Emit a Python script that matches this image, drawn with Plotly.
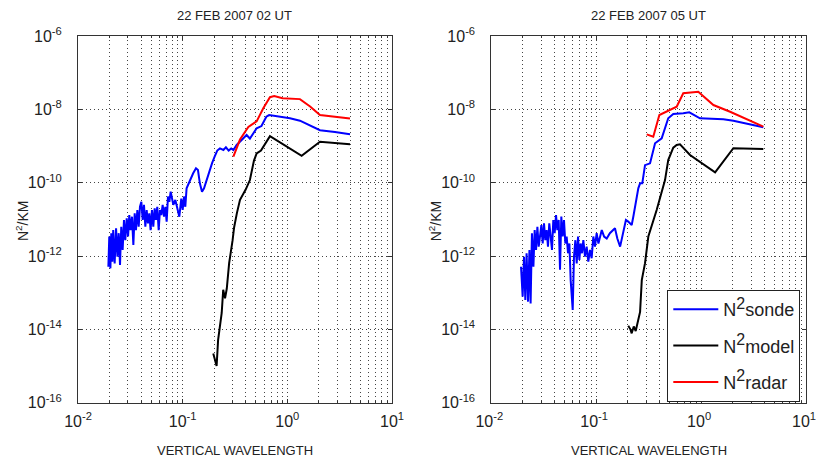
import plotly.graph_objects as go

# ---------------- data ----------------
# Panel 1: 22 FEB 2007 02 UT
sonde02_x = [0.0195, 0.0199, 0.0204, 0.0208, 0.0213, 0.0217, 0.0224, 0.0231, 0.0238, 0.0245,
             0.0252, 0.0259, 0.0267, 0.0275, 0.0283, 0.0292, 0.0301, 0.0309, 0.0318, 0.0328,
             0.0338, 0.0348, 0.0358, 0.0369, 0.0380, 0.0391, 0.0403, 0.0415, 0.0427, 0.0440,
             0.0453, 0.0466, 0.0480, 0.0494, 0.0509, 0.0524, 0.0540, 0.0556, 0.0572, 0.0590,
             0.0607, 0.0625, 0.0644, 0.0663, 0.0683, 0.0703, 0.0724, 0.0746, 0.0768, 0.0791,
             0.0814, 0.0851, 0.0889, 0.0929, 0.0970, 0.100, 0.103, 0.106, 0.109, 0.114,
             0.119, 0.126, 0.134, 0.140, 0.146, 0.153, 0.160, 0.169, 0.180, 0.191,
             0.202, 0.214, 0.227, 0.245, 0.259, 0.275, 0.291, 0.305, 0.328, 0.353,
             0.380, 0.408, 0.439, 0.509, 0.566, 0.630, 0.670, 1.06, 1.32, 2.05, 2.85, 3.97]
sonde02_y = [5.1e-13, 3.4e-12, 4.6e-13, 4.2e-12, 7.0e-13, 5.1e-12, 6.3e-13, 5.7e-12, 9.6e-13, 4.2e-12,
             5.7e-13, 6.3e-12, 1.46e-12, 9.6e-12, 2.7e-12, 1.07e-11, 3.4e-12, 1.31e-11, 5.1e-12, 1.18e-11,
             2.0e-12, 1.46e-11, 5.1e-12, 1.8e-11, 6.3e-12, 2.2e-11, 3.0e-11, 9.6e-12, 2.5e-11, 6.3e-12,
             1.8e-11, 7.8e-12, 1.46e-11, 5.1e-12, 1.8e-11, 6.3e-12, 2.0e-11, 9.6e-12, 2.2e-11, 5.1e-12,
             1.8e-11, 1.31e-11, 2.5e-11, 1.18e-11, 2.2e-11, 8.6e-12, 4.2e-11, 3.0e-11, 5.7e-11, 3.4e-11,
             2.5e-11, 3.4e-11, 2.0e-11, 1.18e-11, 3.7e-11, 1.8e-11, 4.2e-11, 2.2e-11, 7.0e-11, 9.6e-11,
             1.18e-10, 1.8e-10, 2.46e-10, 2.2e-10, 9.6e-11, 5.7e-11, 7.0e-11, 1.18e-10, 2.2e-10, 3.4e-10,
             5.1e-10, 7.5e-10, 8.6e-10, 7.8e-10, 9.2e-10, 7.5e-10, 8.6e-10, 7.8e-10, 1.07e-9, 1.31e-9,
             1.62e-9, 2.0e-9, 1.6e-9, 3.04e-9, 3.5e-9, 6.3e-9, 7.0e-9, 5.7e-9, 4.9e-9, 2.7e-9, 2.4e-9, 2.1e-9]

model02_x = [0.196, 0.211, 0.218, 0.228, 0.236, 0.244, 0.254, 0.264, 0.278, 0.300, 0.310,
             0.330, 0.353, 0.400, 0.439, 0.480, 0.509, 0.560, 0.682, 1.37, 2.05, 3.97]
model02_y = [2.2e-15, 1.0e-15, 5.1e-15, 1.18e-14, 2.8e-14, 1.2e-13, 7.0e-14, 1.3e-13, 6.4e-13, 2.7e-12, 6.0e-12,
             1.5e-11, 3.4e-11, 6.5e-11, 1.18e-10, 4.0e-10, 6.3e-10, 7.5e-10, 1.86e-9, 5.4e-10, 1.3e-9, 1.12e-9]

radar02_x = [0.305, 0.353, 0.424, 0.509, 0.589, 0.682, 0.750, 0.791, 0.900, 1.32, 1.65, 2.05, 2.75, 3.97]
radar02_y = [5.1e-10, 1.5e-9, 3.3e-9, 4.7e-9, 1.07e-8, 2.14e-8, 2.3e-8, 2.2e-8, 2.0e-8, 1.9e-8, 1.2e-8, 7.0e-9, 6.3e-9, 5.6e-9]

# Panel 2: 22 FEB 2007 05 UT
sonde05_x = [0.0192, 0.0199, 0.0205, 0.0211, 0.0217, 0.0224, 0.0231, 0.0237, 0.0244, 0.0252,
             0.0259, 0.0267, 0.0275, 0.0283, 0.0291, 0.0300, 0.0309, 0.0318, 0.0327, 0.0337,
             0.0347, 0.0357, 0.0368, 0.0379, 0.0390, 0.0402, 0.0414, 0.0426, 0.0439, 0.0452,
             0.0465, 0.0479, 0.0493, 0.0508, 0.0523, 0.0539, 0.0555, 0.0571, 0.0597, 0.0614,
             0.0633, 0.0652, 0.0671, 0.0691, 0.0711, 0.0732, 0.0754, 0.0782, 0.0811, 0.0841,
             0.0873, 0.0905, 0.0939, 0.0974, 0.101, 0.105, 0.113, 0.119, 0.126, 0.135,
             0.151, 0.159, 0.169, 0.181, 0.192, 0.202, 0.218, 0.226, 0.243, 0.252,
             0.262, 0.275, 0.292, 0.326, 0.364, 0.421, 0.486, 0.543, 0.676, 0.772,
             0.975, 1.63, 2.03, 3.92]
sonde05_y = [5.1e-13, 7.8e-14, 9.6e-13, 6.3e-14, 1.19e-12, 5.7e-14, 1.46e-12, 5.1e-14, 4.2e-12, 5.1e-13,
             5.1e-12, 1.46e-12, 6.3e-12, 1.8e-12, 3.4e-12, 7.0e-12, 2.2e-12, 7.8e-12, 2.7e-12, 5.1e-12,
             1.8e-12, 7.8e-12, 3.4e-12, 1.46e-12, 9.6e-12, 4.2e-12, 1.3e-11, 5.1e-12, 9.6e-12, 4.2e-13,
             1.2e-11, 3.4e-12, 9.6e-12, 2.2e-12, 3.4e-12, 1.19e-12, 2.2e-12, 2.2e-13, 3.4e-14, 9.6e-13,
             2.7e-12, 6.3e-13, 3.4e-12, 7.8e-13, 2.2e-12, 1.19e-12, 2.7e-12, 9.6e-13, 1.8e-12, 7.0e-13,
             1.46e-12, 8.7e-13, 3.4e-12, 1.8e-12, 4.2e-12, 2.2e-12, 5.1e-12, 3.4e-12, 3.0e-12, 4.2e-12,
             5.7e-12, 3.0e-12, 1.8e-12, 4.6e-12, 9.6e-12, 8.7e-12, 7.0e-12, 1.2e-11, 3.4e-11, 7.0e-11,
             9.6e-11, 9.6e-11, 3.0e-10, 3.37e-10, 1.19e-9, 1.62e-9, 5.7e-9, 7.46e-9, 7.8e-9, 8.3e-9,
             5.7e-9, 5.35e-9, 4.9e-9, 3.24e-9]

model05_x = [0.202, 0.212, 0.218, 0.228, 0.238, 0.252, 0.262, 0.272, 0.292, 0.314, 0.377,
             0.453, 0.486, 0.543, 0.585, 0.629, 0.784, 1.36, 2.03, 3.92]
model05_y = [1.26e-14, 1.0e-14, 7.8e-15, 1.2e-14, 9.0e-15, 1.8e-14, 3.0e-14, 2.2e-13, 6.4e-13, 3.4e-12, 1.8e-11,
             1.18e-10, 4.15e-10, 9.0e-10, 1.07e-9, 1.11e-9, 5.7e-10, 1.92e-10, 8.7e-10, 8.3e-10]

radar05_x = [0.303, 0.350, 0.400, 0.585, 0.676, 0.940, 1.31, 1.89, 3.92]
radar05_y = [2.08e-9, 1.79e-9, 7.0e-9, 1.18e-8, 2.74e-8, 3.03e-8, 1.31e-8, 8.6e-9, 3.36e-9]

titles = ["22 FEB 2007 02 UT", "22 FEB 2007 05 UT"]
series_names = ["N<sup><span style='font-size:16px'>2</span></sup>sonde",
                "N<sup><span style='font-size:16px'>2</span></sup>model",
                "N<sup><span style='font-size:16px'>2</span></sup>radar"]
series_colors = ["#0000ff", "#000000", "#ff0000"]

x_major = [0.01, 0.1, 1, 10]
x_major_text = ["10<sup>-2</sup>", "10<sup>-1</sup>", "10<sup>0</sup>", "10<sup>1</sup>"]
x_minor = [m * d for d in (0.01, 0.1, 1) for m in range(2, 10)]
y_major = [1e-16, 1e-14, 1e-12, 1e-10, 1e-8, 1e-6]
y_major_text = ["10<sup>-16</sup>", "10<sup>-14</sup>", "10<sup>-12</sup>",
                "10<sup>-10</sup>", "10<sup>-8</sup>", "10<sup>-6</sup>"]

# ---------------- figure ----------------
W, H = 819, 463
FONT = "Liberation Sans, Arial, Helvetica, sans-serif"
AX = "#333333"
GRID = "#444444"
DOT = "1px,3px"

panels = [
    (sonde02_x, sonde02_y, model02_x, model02_y, radar02_x, radar02_y),
    (sonde05_x, sonde05_y, model05_x, model05_y, radar05_x, radar05_y),
]

fig = go.Figure()
for i, (sx, sy, mx, my, rx, ry) in enumerate(panels):
    xa = "x" if i == 0 else "x2"
    ya = "y" if i == 0 else "y2"
    for (xx, yy), nm, col in zip([(sx, sy), (mx, my), (rx, ry)], series_names, series_colors):
        fig.add_trace(go.Scatter(x=xx, y=yy, mode="lines", name=nm,
                                 line=dict(color=col, width=2),
                                 xaxis=xa, yaxis=ya, showlegend=(i == 1),
                                 legendgroup=nm, hoverinfo="skip"))

left_px = [(78, 392), (491.3, 806)]
top_px, bot_px = 36, 402.7
ydom = [1 - bot_px / H, 1 - top_px / H]


def xaxis_cfg(dom, anchor, shift):
    return dict(type="log", range=[-2, 1], domain=dom, anchor=anchor,
                tickmode="array", tickvals=x_major, ticktext=x_major_text,
                ticks="inside", ticklen=4, tickcolor=AX,
                showline=True, linecolor=AX, linewidth=1, mirror="ticks",
                showgrid=True, gridcolor=GRID, griddash=DOT, gridwidth=1,
                zeroline=False, ticklabelstandoff=4, ticklabelshift=shift,
                ticklabeloverflow="allow",
                tickfont=dict(family=FONT, size=16, color="#222"),
                minor=dict(tickmode="array", tickvals=x_minor, ticks="inside",
                           ticklen=2, tickcolor=AX, showgrid=True,
                           gridcolor=GRID, griddash=DOT, gridwidth=1))


def yaxis_cfg(anchor):
    return dict(type="log", range=[-16, -6], domain=ydom, anchor=anchor,
                tickmode="array", tickvals=y_major, ticktext=y_major_text,
                ticks="inside", ticklen=4, tickcolor=AX,
                showline=True, linecolor=AX, linewidth=1, mirror="ticks",
                showgrid=True, gridcolor=GRID, griddash=DOT, gridwidth=1,
                zeroline=False, ticklabelstandoff=12,
                tickfont=dict(family=FONT, size=16, color="#222"))


fig.update_layout(
    width=W, height=H,
    margin=dict(l=0, r=0, t=0, b=0, autoexpand=False),
    paper_bgcolor="white", plot_bgcolor="white",
    xaxis=xaxis_cfg([left_px[0][0] / W, left_px[0][1] / W], "y", 0),
    yaxis=yaxis_cfg("x"),
    xaxis2=xaxis_cfg([left_px[1][0] / W, left_px[1][1] / W], "y2", -2),
    yaxis2=yaxis_cfg("x2"),
    legend=dict(x=667.3 / W, y=1 - 290 / H, xanchor="left", yanchor="top",
                bgcolor="white", bordercolor="#222", borderwidth=1,
                font=dict(family=FONT, size=18, color="#222"),
                itemwidth=45, tracegroupgap=10),
    showlegend=True,
    hovermode=False,
)

annotations = []
for i, (l, r) in enumerate(left_px):
    cx = (l + r) / 2 / W
    annotations.append(dict(text=titles[i], x=cx, y=1 - 16 / H, xref="paper", yref="paper",
                            showarrow=False, xanchor="center", yanchor="middle",
                            font=dict(family=FONT, size=13, color="#222")))
    annotations.append(dict(text="VERTICAL WAVELENGTH", x=cx, y=1 - 450 / H,
                            xref="paper", yref="paper", showarrow=False,
                            xanchor="center", yanchor="middle",
                            font=dict(family=FONT, size=13, color="#222")))
    annotations.append(dict(text="N<sup>2</sup>/KM", x=(l - 56) / W, y=1 - 221 / H,
                            xref="paper", yref="paper", showarrow=False, textangle=-90,
                            xanchor="center", yanchor="middle",
                            font=dict(family=FONT, size=14, color="#222")))
fig.update_layout(annotations=annotations)

fig.write_html("out.html",
               config={"displayModeBar": False, "staticPlot": True},
               post_script="document.body.style.margin='0';document.body.style.overflow='hidden';")
